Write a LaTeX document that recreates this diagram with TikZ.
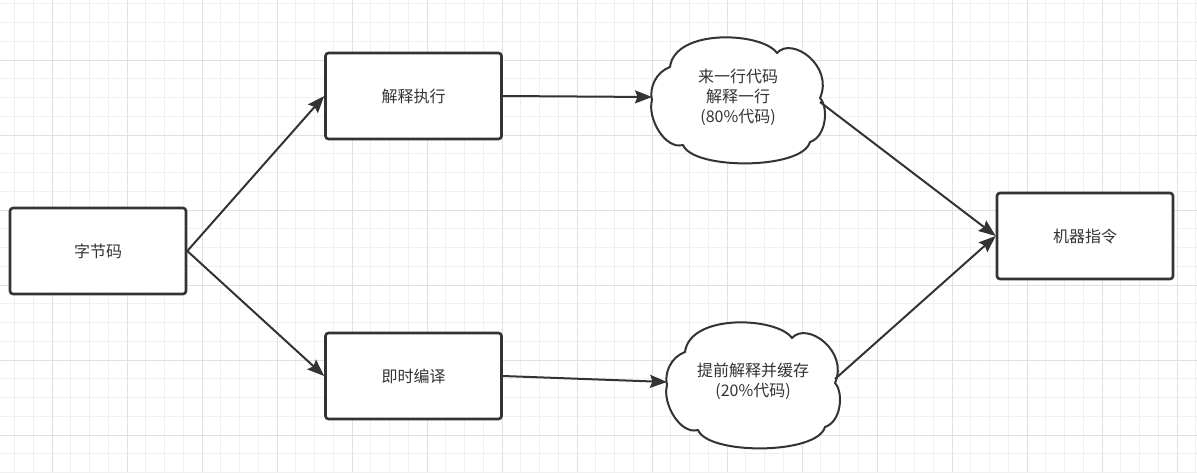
\documentclass[tikz,border=0pt]{standalone}
\usepackage{fontspec}
\setmainfont{Noto Sans CJK SC}
\usetikzlibrary{arrows.meta}

\definecolor{ink}{HTML}{333333}
\definecolor{gridminor}{HTML}{F0F0F0}
\definecolor{gridmajor}{HTML}{E0E0E0}

% cloud outline round a centre, with its two connector ends
\newcommand{\cloudat}[2]{%
  \begin{scope}[shift={(#2)}]
    \draw [cloudline] (-68,-33)
        .. controls (-63,-72) and (24,-68) .. (39,-47)
        .. controls (54,-64) and (96,-34) .. (82,-2)
        .. controls (91,8) and (88,37) .. (72,42)
        .. controls (64,70) and (-45,70) .. (-55,45)
        .. controls (-73,50) and (-91,18) .. (-86,0)
        .. controls (-89,-12) and (-82,-28) .. cycle;
    \coordinate (#1-w) at (-86,-3);
    \coordinate (#1-e) at (82,-1);
  \end{scope}}

\begin{document}
\begin{tikzpicture}[x=1pt, y=-1pt,
    box/.style={draw=ink, line width=2.6pt, rounded corners=3pt, fill=white,
        minimum width=176pt, minimum height=86pt, text=ink,
        font=\fontsize{16}{20}\selectfont},
    cloudline/.style={draw=ink, line width=2pt, fill=white, line join=round},
    bubble/.style={text=ink, align=center, inner sep=0pt,
        font=\fontsize{16}{20}\selectfont},
    link/.style={-{Stealth[length=17pt,width=13pt,inset=2.5pt]}, draw=ink, line width=2pt}]
    \useasboundingbox (0,0) rectangle (1197,472);

    % Grid
    \begin{scope}
        \clip (0,0) rectangle (1197,472);
        \foreach \i in {0,...,64} \draw[gridminor, line width=1pt] ({-4.25+18.75*\i},0) -- ++(0,472);
        \foreach \i in {0,...,25} \draw[gridminor, line width=1pt] (0,{3.75+18.75*\i}) -- ++(1197,0);
        \foreach \i in {0,...,16} \draw[gridmajor, line width=1pt] ({-23+75*\i},0) -- ++(0,472);
        \foreach \i in {0,...,6} \draw[gridmajor, line width=1pt] (0,{-15+75*\i}) -- ++(1197,0);
    \end{scope}

    % Clouds
    \cloudat{c1}{738,100}
    \cloudat{c2}{753,385}

    % Nodes
    \node [box]     (bc)      at (98,251)     {字节码};
    \node [box]     (interp)  at (413.5,96)   {解释执行};
    \node [box]     (jit)     at (413.5,376)  {即时编译};
    \node [bubble]  (c1)      at (738,97)     {来一行代码\\解释一行\\(80\%代码)};
    \node [bubble]  (c2)      at (753,381)    {提前解释并缓存\\(20\%代码)};
    \node [box]     (mc)      at (1085,236)   {机器指令};

    % Paths
    \draw [link]   (bc.east)       --   (interp.west);
    \draw [link]   (bc.east)       --   (jit.west);
    \draw [link]   (interp.east)   --   (c1-w);
    \draw [link]   (jit.east)      --   (c2-w);
    \draw [link]   ([yshift=-3pt]c1-e)   --   (mc.west);
    \draw [link]   ([yshift=5pt]c2-e)    --   (mc.west);
\end{tikzpicture}
\end{document}
